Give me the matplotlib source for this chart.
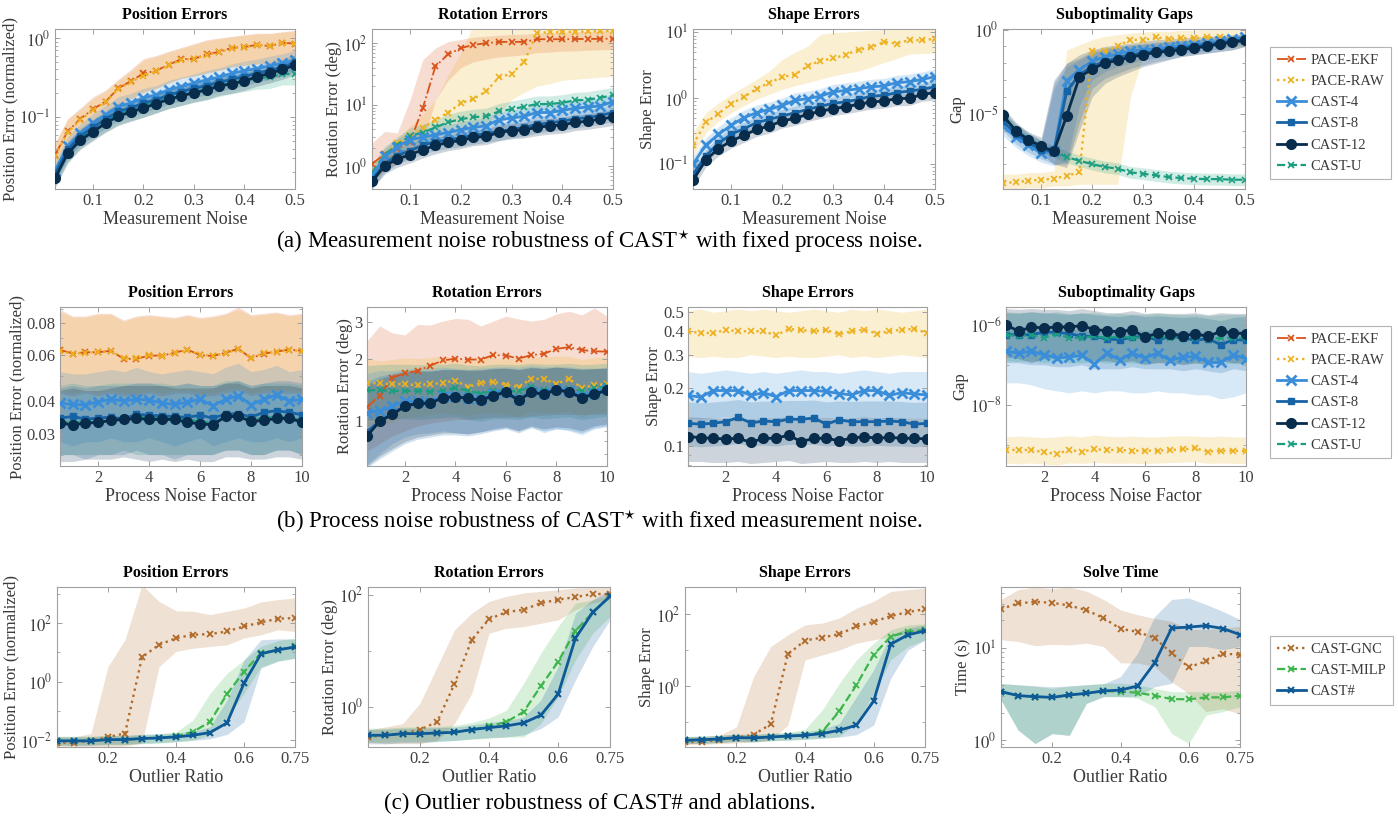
import numpy as np
import matplotlib
matplotlib.use("Agg")
import matplotlib.pyplot as plt
from matplotlib.lines import Line2D
from matplotlib.ticker import FixedLocator, FixedFormatter, NullFormatter

plt.rcParams.update({
    "font.family": ["Liberation Serif", "DejaVu Serif"],
    "mathtext.fontset": "stix",
    "axes.edgecolor": "#a0a0a0",
    "axes.linewidth": 0.8,
    "xtick.color": "#a0a0a0",
    "ytick.color": "#a0a0a0",
    "xtick.labelcolor": "#404040",
    "ytick.labelcolor": "#404040",
})

# ---------------- x values ----------------
A_X = [0.025, 0.05, 0.075, 0.1, 0.125, 0.15, 0.175, 0.2, 0.225, 0.25, 0.275, 0.3, 0.325, 0.35, 0.375, 0.4, 0.425, 0.45, 0.475, 0.5]
B_X = [0.5, 1, 1.5, 2, 2.5, 3, 3.5, 4, 4.5, 5, 5.5, 6, 6.5, 7, 7.5, 8, 8.5, 9, 9.5, 10]
C_X = [0.05, 0.1, 0.15, 0.2, 0.25, 0.3, 0.35, 0.4, 0.45, 0.5, 0.55, 0.6, 0.65, 0.7, 0.75]

# ---------------- (a1) position vs measurement noise ----------------
a1_ekf = [0.033, 0.066, 0.094, 0.126, 0.157, 0.23, 0.285, 0.356, 0.385, 0.46, 0.54, 0.545, 0.62, 0.67, 0.75, 0.77, 0.82, 0.79, 0.87, 0.85]
a1_ekf_hi = [0.047, 0.095, 0.13, 0.18, 0.22, 0.30, 0.40, 0.55, 0.60, 0.68, 0.76, 0.85, 0.95, 1.0, 1.05, 1.1, 1.15, 1.15, 1.2, 1.25]
a1_ekf_lo = [0.022, 0.043, 0.06, 0.08, 0.10, 0.14, 0.17, 0.21, 0.23, 0.27, 0.31, 0.33, 0.36, 0.39, 0.43, 0.45, 0.47, 0.47, 0.5, 0.5]
a1_raw = [0.032, 0.064, 0.092, 0.122, 0.155, 0.225, 0.28, 0.33, 0.38, 0.45, 0.53, 0.55, 0.61, 0.66, 0.74, 0.77, 0.81, 0.80, 0.86, 0.84]
a1_raw_hi = [0.046, 0.093, 0.125, 0.17, 0.21, 0.29, 0.38, 0.52, 0.58, 0.66, 0.74, 0.82, 0.92, 0.98, 1.03, 1.08, 1.12, 1.13, 1.18, 1.22]
a1_raw_lo = [0.022, 0.044, 0.061, 0.081, 0.1, 0.14, 0.17, 0.2, 0.23, 0.27, 0.31, 0.33, 0.36, 0.39, 0.43, 0.45, 0.47, 0.48, 0.5, 0.5]
a1_c4 = [0.021, 0.043, 0.063, 0.084, 0.107, 0.136, 0.15, 0.174, 0.19, 0.22, 0.243, 0.267, 0.295, 0.318, 0.357, 0.385, 0.41, 0.445, 0.476, 0.525]
a1_c4_hi = [0.027, 0.056, 0.082, 0.11, 0.14, 0.18, 0.20, 0.23, 0.25, 0.29, 0.32, 0.35, 0.39, 0.42, 0.47, 0.51, 0.54, 0.59, 0.63, 0.70]
a1_c4_lo = [0.016, 0.032, 0.047, 0.063, 0.08, 0.10, 0.113, 0.13, 0.143, 0.165, 0.18, 0.20, 0.22, 0.24, 0.27, 0.29, 0.31, 0.33, 0.36, 0.39]
a1_c8 = [0.019, 0.039, 0.057, 0.074, 0.094, 0.118, 0.13, 0.15, 0.165, 0.19, 0.21, 0.23, 0.25, 0.275, 0.30, 0.325, 0.36, 0.39, 0.43, 0.49]
a1_c8_hi = [0.024, 0.049, 0.072, 0.094, 0.12, 0.15, 0.165, 0.19, 0.21, 0.24, 0.265, 0.29, 0.315, 0.345, 0.38, 0.41, 0.45, 0.49, 0.54, 0.61]
a1_c8_lo = [0.0145, 0.03, 0.044, 0.057, 0.072, 0.09, 0.1, 0.115, 0.127, 0.146, 0.16, 0.177, 0.19, 0.21, 0.23, 0.25, 0.275, 0.30, 0.33, 0.37]
a1_c12 = [0.0168, 0.0346, 0.051, 0.065, 0.084, 0.102, 0.116, 0.13, 0.147, 0.168, 0.185, 0.204, 0.219, 0.247, 0.263, 0.286, 0.324, 0.356, 0.40, 0.454]
a1_c12_hi = [0.021, 0.044, 0.065, 0.083, 0.107, 0.13, 0.148, 0.165, 0.187, 0.213, 0.235, 0.26, 0.28, 0.31, 0.335, 0.365, 0.41, 0.45, 0.5, 0.57]
a1_c12_lo = [0.0128, 0.026, 0.039, 0.05, 0.064, 0.078, 0.088, 0.099, 0.112, 0.128, 0.14, 0.155, 0.167, 0.188, 0.2, 0.218, 0.246, 0.27, 0.3, 0.345]
a1_cu = [0.018, 0.036, 0.054, 0.07, 0.088, 0.108, 0.122, 0.137, 0.155, 0.175, 0.192, 0.21, 0.225, 0.25, 0.27, 0.29, 0.31, 0.318, 0.35, 0.35]
a1_cu_hi = [0.023, 0.046, 0.069, 0.089, 0.112, 0.137, 0.155, 0.174, 0.197, 0.22, 0.244, 0.267, 0.286, 0.318, 0.343, 0.368, 0.39, 0.40, 0.44, 0.45]
a1_cu_lo = [0.0135, 0.027, 0.04, 0.052, 0.065, 0.08, 0.09, 0.1, 0.113, 0.128, 0.14, 0.153, 0.164, 0.182, 0.197, 0.21, 0.225, 0.23, 0.255, 0.255]

# ---------------- (a2) rotation vs measurement noise ----------------
a2_ekf = [1.09, 1.6, 1.9, 2.5, 8.8, 42, 66, 83, 94, 100, 105, 105, 105, 116, 116, 116, 117, 117, 118, 118]
a2_ekf_hi = [2.4, 3.7, 3.5, 12, 54, 83, 106, 115, 125, 130, 135, 138, 140, 145, 150, 150, 155, 155, 160, 160]
a2_ekf_lo = [0.6, 0.88, 1.1, 1.45, 2.4, 12, 25, 40, 50, 55, 60, 62, 65, 70, 72, 74, 75, 77, 78, 80]
a2_raw = [0.75, 1.55, 2.4, 3.1, 4.2, 5.7, 7.5, 10.6, 12.5, 16.5, 28, 32, 50, 148, 150, 152, 154, 155, 156, 158]
a2_raw_hi = [1.0, 1.9, 2.8, 4.5, 7, 12, 30, 70, 200, 200, 200, 200, 200, 200, 200, 200, 200, 200, 200, 200]
a2_raw_lo = [0.47, 0.9, 1.3, 1.9, 2.3, 2.7, 3.1, 3.5, 4.2, 5, 7, 12, 16, 20, 22, 25, 26, 27, 28, 29]
a2_c4 = [0.69, 1.45, 2.1, 2.7, 2.99, 3.26, 3.55, 3.93, 4.3, 4.56, 5.7, 6.1, 6.5, 7.5, 7.5, 8.1, 8.8, 9.2, 9.6, 11.3]
a2_c4_hi = [0.93, 1.95, 2.8, 3.6, 4.0, 4.4, 4.8, 5.3, 5.8, 6.2, 7.7, 8.2, 8.8, 10.1, 10.1, 10.9, 11.9, 12.4, 13.0, 15.3]
a2_c4_lo = [0.5, 1.04, 1.5, 1.95, 2.15, 2.35, 2.55, 2.83, 3.1, 3.3, 4.1, 4.4, 4.7, 5.4, 5.4, 5.8, 6.3, 6.6, 6.9, 8.1]
a2_c8 = [0.6, 1.1, 1.5, 1.8, 2.2, 2.5, 2.7, 2.9, 3.2, 3.4, 3.7, 4.0, 4.3, 4.8, 5.1, 5.4, 5.9, 6.2, 6.7, 7.5]
a2_c8_hi = [0.8, 1.5, 2.0, 2.4, 2.9, 3.3, 3.6, 3.9, 4.3, 4.6, 5.0, 5.4, 5.8, 6.5, 6.9, 7.3, 8.0, 8.4, 9.0, 10.1]
a2_c8_lo = [0.44, 0.8, 1.1, 1.3, 1.6, 1.8, 1.95, 2.1, 2.3, 2.45, 2.65, 2.9, 3.1, 3.45, 3.7, 3.9, 4.2, 4.5, 4.8, 5.4]
a2_c12 = [0.57, 1.02, 1.32, 1.55, 1.86, 2.19, 2.45, 2.64, 2.95, 3.07, 3.56, 3.8, 3.93, 4.3, 4.56, 4.7, 5.2, 5.4, 5.9, 6.3]
a2_c12_hi = [0.75, 1.35, 1.75, 2.05, 2.45, 2.9, 3.2, 3.5, 3.9, 4.05, 4.7, 5.0, 5.2, 5.7, 6.0, 6.2, 6.9, 7.1, 7.8, 8.3]
a2_c12_lo = [0.43, 0.75, 0.97, 1.14, 1.37, 1.6, 1.8, 1.95, 2.17, 2.26, 2.6, 2.8, 2.9, 3.15, 3.35, 3.45, 3.8, 4.0, 4.3, 4.6]
a2_cu = [0.78, 1.55, 2.25, 3.1, 3.55, 4.3, 5.2, 5.85, 6.3, 6.5, 7.8, 8.5, 9.3, 10.3, 10.3, 10.8, 11.8, 12.1, 13.1, 14.2]
a2_cu_hi = [1.05, 2.1, 3.0, 4.2, 4.8, 5.8, 7.0, 7.9, 8.5, 8.8, 10.5, 11.5, 12.6, 13.9, 13.9, 14.6, 15.9, 16.3, 17.7, 19.2]
a2_cu_lo = [0.55, 1.1, 1.6, 2.2, 2.5, 3.0, 3.6, 4.1, 4.4, 4.6, 5.5, 6.0, 6.5, 7.2, 7.2, 7.6, 8.3, 8.5, 9.2, 10.0]

# ---------------- (a3) shape vs measurement noise ----------------
a3_raw = [0.198, 0.43, 0.585, 0.83, 1.05, 1.4, 1.73, 2.11, 2.29, 3.1, 3.73, 4.05, 4.6, 5.5, 5.95, 7.2, 6.8, 7.7, 7.6, 8.05]
a3_raw_hi = [0.3, 0.6, 0.85, 1.15, 1.5, 1.95, 2.6, 3.9, 5.0, 6.2, 9.4, 10.0, 10.2, 10.5, 10.8, 11, 11.3, 11.5, 11.5, 11.5]
a3_raw_lo = [0.13, 0.3, 0.45, 0.6, 0.78, 0.97, 1.15, 1.37, 1.55, 1.73, 1.95, 2.2, 2.4, 2.6, 3.0, 3.5, 4.0, 4.7, 4.8, 4.9]
a3_c4 = [0.1, 0.195, 0.284, 0.39, 0.51, 0.605, 0.68, 0.78, 0.93, 0.99, 1.08, 1.25, 1.32, 1.4, 1.5, 1.54, 1.73, 1.79, 1.94, 2.13]
a3_c4_hi = [0.13, 0.25, 0.37, 0.51, 0.66, 0.79, 0.88, 1.01, 1.21, 1.29, 1.4, 1.63, 1.72, 1.82, 1.95, 2.0, 2.25, 2.33, 2.52, 2.77]
a3_c4_lo = [0.075, 0.146, 0.213, 0.29, 0.38, 0.45, 0.51, 0.585, 0.7, 0.74, 0.81, 0.94, 0.99, 1.05, 1.13, 1.16, 1.3, 1.34, 1.46, 1.6]
a3_c8 = [0.07, 0.133, 0.207, 0.284, 0.346, 0.427, 0.48, 0.54, 0.605, 0.68, 0.76, 0.84, 0.89, 0.965, 1.08, 1.11, 1.22, 1.29, 1.37, 1.5]
a3_c8_hi = [0.088, 0.166, 0.26, 0.355, 0.43, 0.53, 0.6, 0.675, 0.76, 0.85, 0.95, 1.05, 1.11, 1.21, 1.35, 1.39, 1.53, 1.61, 1.71, 1.88]
a3_c8_lo = [0.056, 0.106, 0.166, 0.227, 0.277, 0.34, 0.384, 0.432, 0.484, 0.544, 0.61, 0.67, 0.71, 0.77, 0.86, 0.89, 0.98, 1.03, 1.1, 1.2]
a3_c12 = [0.057, 0.116, 0.172, 0.225, 0.274, 0.338, 0.38, 0.453, 0.497, 0.572, 0.635, 0.697, 0.747, 0.81, 0.88, 0.91, 0.99, 1.0, 1.15, 1.22]
a3_c12_hi = [0.068, 0.139, 0.206, 0.27, 0.33, 0.405, 0.456, 0.544, 0.596, 0.686, 0.762, 0.836, 0.896, 0.97, 1.06, 1.09, 1.19, 1.2, 1.38, 1.46]
a3_c12_lo = [0.044, 0.09, 0.134, 0.175, 0.214, 0.264, 0.296, 0.353, 0.388, 0.446, 0.495, 0.544, 0.583, 0.632, 0.686, 0.71, 0.77, 0.78, 0.9, 0.95]

# ---------------- (a4) suboptimality gap vs measurement noise (log10 values) ----------------
a4_raw = [-9.13, -9.07, -8.99, -8.93, -8.87, -8.69, -8.49, -1.29, -1.29, -0.99, -0.6, -0.63, -0.46, -0.54, -0.5, -0.5, -0.44, -0.46, -0.54, -0.56]
a4_raw_hi = [-8.6, -8.6, -8.5, -8.5, -8.4, -1.2, -0.9, -0.6, -0.4, -0.3, -0.2, -0.15, -0.1, -0.1, -0.05, -0.05, 0, 0, 0, 0]
a4_raw_lo = [-9.5, -9.5, -9.4, -9.4, -9.3, -9.3, -9.2, -9.2, -9.2, -9.2, -4.0, -1.6, -1.3, -1.2, -1.1, -1.1, -1.0, -1.0, -1.0, -1.0]
a4_c4 = [-5.75, -6.39, -6.88, -7.34, -7.24, -3.04, -2.38, -1.88, -1.63, -1.45, -1.29, -1.19, -1.15, -1.03, -0.95, -0.89, -0.79, -0.69, -0.55, -0.44]
a4_c4_hi = [-5.2, -5.8, -6.3, -6.7, -3.5, -2.2, -1.8, -1.4, -1.2, -1.05, -0.95, -0.85, -0.8, -0.7, -0.65, -0.6, -0.55, -0.45, -0.4, -0.25]
a4_c4_lo = [-6.3, -7.0, -7.5, -7.9, -8.1, -7.8, -4.5, -3.0, -2.5, -2.2, -2.0, -1.8, -1.7, -1.55, -1.45, -1.35, -1.25, -1.1, -1.0, -0.8]
a4_c8 = [-5.46, -6.19, -6.71, -7.14, -7.24, -3.67, -2.68, -2.18, -1.88, -1.68, -1.49, -1.39, -1.29, -1.19, -1.09, -0.99, -0.91, -0.79, -0.69, -0.56]
a4_c8_hi = [-4.9, -5.6, -6.1, -6.6, -3.2, -2.0, -1.7, -1.3, -1.1, -1.0, -0.9, -0.85, -0.75, -0.7, -0.65, -0.6, -0.55, -0.45, -0.4, -0.3]
a4_c8_lo = [-6.0, -6.8, -7.3, -7.7, -8.0, -8.0, -5.5, -3.5, -2.9, -2.6, -2.3, -2.1, -1.9, -1.75, -1.6, -1.5, -1.4, -1.3, -1.2, -1.0]
a4_c12 = [-5.1, -6.01, -6.55, -6.94, -7.24, -5.12, -2.82, -2.34, -1.98, -1.83, -1.63, -1.49, -1.35, -1.29, -1.19, -1.09, -0.99, -0.85, -0.75, -0.63]
a4_c12_hi = [-4.6, -5.5, -6.1, -6.4, -3.0, -2.0, -1.5, -1.2, -1.0, -0.9, -0.8, -0.7, -0.6, -0.55, -0.5, -0.45, -0.4, -0.35, -0.3, -0.25]
a4_c12_lo = [-5.6, -6.5, -7.0, -7.4, -8.0, -8.2, -6.0, -4.0, -3.2, -2.8, -2.5, -2.2, -2.0, -1.8, -1.6, -1.5, -1.4, -1.3, -1.2, -1.0]
a4_cu = [-5.1, -6.01, -6.55, -6.94, -7.24, -7.58, -7.8, -8.0, -8.17, -8.27, -8.49, -8.57, -8.67, -8.77, -8.83, -8.87, -8.89, -8.89, -8.93, -8.93]
a4_cu_hi = [-4.75, -5.66, -6.2, -6.59, -6.89, -7.23, -7.45, -7.65, -7.82, -7.92, -8.14, -8.22, -8.32, -8.42, -8.48, -8.52, -8.54, -8.54, -8.58, -8.58]
a4_cu_lo = [-5.45, -6.36, -6.9, -7.29, -7.59, -7.93, -8.15, -8.35, -8.52, -8.62, -8.84, -8.92, -9.02, -9.12, -9.18, -9.22, -9.24, -9.24, -9.28, -9.28]

# ---------------- (b1) position vs process noise ----------------
b1_ekf = [0.063, 0.061, 0.0617, 0.0617, 0.0625, 0.0582, 0.0582, 0.0599, 0.0599, 0.0614, 0.0632, 0.0601, 0.0597, 0.0614, 0.0637, 0.0585, 0.061, 0.062, 0.0632, 0.0625]
b1_ekf_hi = [0.09, 0.085, 0.085, 0.087, 0.087, 0.082, 0.085, 0.086, 0.085, 0.084, 0.086, 0.084, 0.085, 0.087, 0.092, 0.086, 0.087, 0.088, 0.086, 0.087]
b1_ekf_lo = [0.043, 0.042, 0.043, 0.042, 0.043, 0.042, 0.042, 0.043, 0.042, 0.043, 0.043, 0.042, 0.042, 0.043, 0.044, 0.042, 0.043, 0.043, 0.043, 0.043]
b1_raw = [0.0625, 0.0607, 0.0615, 0.0618, 0.0622, 0.0585, 0.0584, 0.0601, 0.0597, 0.0612, 0.063, 0.0603, 0.0599, 0.0611, 0.0635, 0.0588, 0.0612, 0.0618, 0.063, 0.0622]
b1_raw_hi = [0.088, 0.084, 0.084, 0.086, 0.086, 0.081, 0.084, 0.085, 0.084, 0.083, 0.085, 0.083, 0.084, 0.086, 0.09, 0.085, 0.086, 0.087, 0.085, 0.086]
b1_raw_lo = [0.044, 0.043, 0.044, 0.043, 0.044, 0.043, 0.043, 0.044, 0.043, 0.044, 0.044, 0.043, 0.043, 0.044, 0.045, 0.043, 0.044, 0.044, 0.044, 0.044]
b1_c4 = [0.0394, 0.0389, 0.0388, 0.0398, 0.0407, 0.0402, 0.0407, 0.0405, 0.0394, 0.0389, 0.0397, 0.0407, 0.0385, 0.0407, 0.042, 0.0388, 0.0407, 0.0424, 0.0401, 0.0407]
b1_c4_hi = [0.052, 0.051, 0.051, 0.052, 0.053, 0.052, 0.054, 0.052, 0.051, 0.052, 0.053, 0.052, 0.051, 0.054, 0.056, 0.052, 0.053, 0.055, 0.052, 0.053]
b1_c4_lo = [0.028, 0.027, 0.028, 0.028, 0.029, 0.028, 0.028, 0.029, 0.028, 0.027, 0.028, 0.029, 0.027, 0.028, 0.029, 0.028, 0.028, 0.029, 0.028, 0.029]
b1_c8 = [0.0345, 0.035, 0.0342, 0.0345, 0.0348, 0.0342, 0.0357, 0.0354, 0.0352, 0.035, 0.0347, 0.0354, 0.0345, 0.0357, 0.0359, 0.0348, 0.0363, 0.0368, 0.0363, 0.0355]
b1_c8_hi = [0.045, 0.046, 0.045, 0.046, 0.046, 0.046, 0.047, 0.047, 0.046, 0.046, 0.047, 0.046, 0.046, 0.047, 0.048, 0.046, 0.047, 0.048, 0.048, 0.047]
b1_c8_lo = [0.025, 0.025, 0.024, 0.025, 0.025, 0.025, 0.026, 0.025, 0.025, 0.024, 0.025, 0.025, 0.025, 0.026, 0.026, 0.025, 0.025, 0.026, 0.026, 0.025]
b1_c12 = [0.033, 0.0325, 0.033, 0.0332, 0.0338, 0.0341, 0.0344, 0.0341, 0.0341, 0.0341, 0.0332, 0.0328, 0.0325, 0.035, 0.035, 0.0335, 0.0338, 0.0344, 0.0344, 0.0333]
b1_c12_hi = [0.044, 0.045, 0.044, 0.044, 0.045, 0.046, 0.046, 0.046, 0.046, 0.045, 0.045, 0.045, 0.045, 0.047, 0.047, 0.045, 0.046, 0.046, 0.046, 0.045]
b1_c12_lo = [0.0235, 0.0235, 0.024, 0.024, 0.024, 0.0245, 0.024, 0.0235, 0.024, 0.0235, 0.024, 0.0235, 0.0235, 0.0245, 0.0245, 0.024, 0.024, 0.0245, 0.0245, 0.024]
b1_cu = [0.0335, 0.033, 0.0335, 0.034, 0.034, 0.0345, 0.035, 0.0345, 0.0345, 0.0345, 0.034, 0.0335, 0.033, 0.035, 0.035, 0.034, 0.0345, 0.035, 0.0345, 0.034]
b1_cu_hi = [0.046, 0.047, 0.046, 0.046, 0.047, 0.047, 0.047, 0.047, 0.047, 0.046, 0.047, 0.046, 0.046, 0.048, 0.048, 0.046, 0.047, 0.047, 0.047, 0.046]
b1_cu_lo = [0.025, 0.025, 0.025, 0.025, 0.025, 0.026, 0.025, 0.025, 0.025, 0.025, 0.025, 0.025, 0.025, 0.026, 0.026, 0.025, 0.025, 0.026, 0.026, 0.025]

# ---------------- (b2) rotation vs process noise ----------------
b2_ekf = [1.17, 1.33, 1.62, 1.7, 1.75, 1.85, 1.96, 2.0, 1.98, 1.98, 2.08, 2.07, 2.0, 2.08, 2.11, 2.23, 2.27, 2.2, 2.17, 2.16]
b2_ekf_hi = [2.43, 2.87, 2.66, 2.6, 2.92, 2.9, 3.03, 3.12, 3.09, 2.87, 3.03, 3.2, 3.1, 3.03, 3.09, 3.28, 3.38, 3.24, 3.5, 3.2]
b2_ekf_lo = [0.72, 0.78, 0.85, 0.9, 0.95, 0.98, 1.0, 1.02, 1.02, 1.03, 1.05, 1.05, 1.05, 1.06, 1.07, 1.08, 1.08, 1.08, 1.08, 1.08]
b2_raw = [1.53, 1.52, 1.51, 1.51, 1.49, 1.51, 1.53, 1.57, 1.46, 1.53, 1.55, 1.5, 1.46, 1.6, 1.6, 1.51, 1.6, 1.45, 1.49, 1.51]
b2_raw_hi = [2.0, 1.95, 1.98, 2.02, 2.0, 2.03, 2.05, 2.0, 1.98, 2.04, 2.02, 2.0, 2.02, 2.05, 2.03, 2.06, 2.05, 1.98, 2.03, 2.04]
b2_raw_lo = [0.9, 0.95, 1.0, 1.05, 1.05, 1.08, 1.1, 1.08, 1.06, 1.1, 1.1, 1.08, 1.05, 1.12, 1.1, 1.1, 1.12, 1.05, 1.1, 1.1]
b2_c4 = [1.1, 1.12, 1.18, 1.25, 1.25, 1.24, 1.32, 1.32, 1.30, 1.28, 1.35, 1.39, 1.28, 1.40, 1.37, 1.43, 1.40, 1.32, 1.37, 1.43]
b2_c4_hi = [1.7, 1.75, 1.75, 1.78, 1.8, 1.8, 1.82, 1.8, 1.78, 1.8, 1.82, 1.83, 1.82, 1.85, 1.83, 1.84, 1.83, 1.8, 1.8, 1.82]
b2_c4_lo = [0.62, 0.7, 0.78, 0.84, 0.87, 0.88, 0.9, 0.88, 0.87, 0.89, 0.91, 0.93, 0.9, 0.94, 0.88, 0.92, 0.9, 0.86, 0.92, 0.94]
b2_c8 = [0.89, 1.0, 1.08, 1.19, 1.22, 1.22, 1.30, 1.31, 1.29, 1.26, 1.33, 1.38, 1.26, 1.38, 1.35, 1.42, 1.38, 1.30, 1.35, 1.41]
b2_c8_hi = [1.55, 1.65, 1.7, 1.75, 1.75, 1.75, 1.78, 1.78, 1.76, 1.77, 1.8, 1.8, 1.78, 1.82, 1.8, 1.82, 1.8, 1.78, 1.79, 1.8]
b2_c8_lo = [0.6, 0.66, 0.72, 0.78, 0.82, 0.84, 0.86, 0.86, 0.85, 0.87, 0.9, 0.92, 0.88, 0.93, 0.9, 0.92, 0.91, 0.88, 0.93, 0.95]
b2_c12 = [0.85, 1.0, 1.08, 1.18, 1.22, 1.22, 1.30, 1.31, 1.29, 1.26, 1.33, 1.38, 1.26, 1.38, 1.35, 1.42, 1.38, 1.30, 1.35, 1.41]
b2_c12_hi = [1.5, 1.6, 1.67, 1.73, 1.74, 1.74, 1.77, 1.77, 1.76, 1.76, 1.79, 1.8, 1.77, 1.81, 1.79, 1.82, 1.8, 1.78, 1.79, 1.8]
b2_c12_lo = [0.61, 0.68, 0.74, 0.8, 0.84, 0.86, 0.88, 0.88, 0.87, 0.89, 0.92, 0.94, 0.9, 0.95, 0.92, 0.94, 0.93, 0.9, 0.95, 0.97]
b2_cu = [1.41, 1.41, 1.40, 1.40, 1.40, 1.39, 1.40, 1.45, 1.40, 1.36, 1.40, 1.39, 1.40, 1.46, 1.41, 1.42, 1.43, 1.40, 1.44, 1.47]
b2_cu_hi = [1.85, 1.87, 1.88, 1.88, 1.87, 1.88, 1.88, 1.9, 1.86, 1.85, 1.88, 1.88, 1.87, 1.9, 1.88, 1.88, 1.9, 1.87, 1.88, 1.9]
b2_cu_lo = [1.0, 1.02, 1.03, 1.03, 1.02, 1.03, 1.04, 1.05, 1.02, 1.0, 1.03, 1.03, 1.02, 1.05, 1.03, 1.04, 1.05, 1.02, 1.04, 1.06]

# ---------------- (b3) shape vs process noise ----------------
b3_raw = [0.398, 0.39, 0.39, 0.404, 0.398, 0.398, 0.398, 0.379, 0.409, 0.404, 0.398, 0.404, 0.384, 0.398, 0.406, 0.387, 0.398, 0.406, 0.409, 0.39]
b3_raw_hi = [0.51, 0.52, 0.5, 0.51, 0.52, 0.51, 0.52, 0.51, 0.5, 0.51, 0.52, 0.51, 0.5, 0.52, 0.51, 0.52, 0.51, 0.5, 0.51, 0.52]
b3_raw_lo = [0.295, 0.29, 0.295, 0.29, 0.29, 0.3, 0.295, 0.29, 0.295, 0.29, 0.29, 0.295, 0.3, 0.29, 0.295, 0.29, 0.295, 0.3, 0.295, 0.29]
b3_c4 = [0.184, 0.18, 0.195, 0.195, 0.195, 0.184, 0.19, 0.181, 0.195, 0.195, 0.195, 0.193, 0.188, 0.185, 0.195, 0.195, 0.184, 0.19, 0.187, 0.185]
b3_c4_hi = [0.245, 0.24, 0.245, 0.25, 0.245, 0.24, 0.245, 0.24, 0.245, 0.25, 0.245, 0.245, 0.24, 0.245, 0.25, 0.245, 0.24, 0.245, 0.245, 0.245]
b3_c4_lo = [0.14, 0.138, 0.14, 0.142, 0.14, 0.138, 0.14, 0.139, 0.14, 0.141, 0.14, 0.14, 0.138, 0.14, 0.141, 0.14, 0.138, 0.14, 0.14, 0.14]
b3_c8 = [0.1315, 0.13, 0.1315, 0.134, 0.141, 0.132, 0.135, 0.134, 0.138, 0.138, 0.14, 0.13, 0.137, 0.134, 0.134, 0.134, 0.135, 0.134, 0.13, 0.1315]
b3_c8_hi = [0.17, 0.168, 0.17, 0.172, 0.175, 0.17, 0.172, 0.171, 0.173, 0.173, 0.174, 0.17, 0.172, 0.171, 0.172, 0.172, 0.172, 0.171, 0.169, 0.17]
b3_c8_lo = [0.1, 0.099, 0.1, 0.101, 0.103, 0.1, 0.101, 0.1, 0.102, 0.102, 0.102, 0.1, 0.101, 0.1, 0.1, 0.101, 0.1, 0.1, 0.099, 0.1]
b3_c12 = [0.112, 0.1106, 0.1097, 0.1088, 0.1097, 0.1045, 0.1097, 0.1097, 0.114, 0.1053, 0.1097, 0.1097, 0.1066, 0.1097, 0.112, 0.1097, 0.111, 0.1097, 0.1097, 0.1088]
b3_c12_hi = [0.142, 0.141, 0.14, 0.14, 0.141, 0.138, 0.14, 0.14, 0.143, 0.139, 0.14, 0.141, 0.139, 0.14, 0.142, 0.14, 0.141, 0.14, 0.14, 0.14]
b3_c12_lo = [0.083, 0.083, 0.082, 0.082, 0.083, 0.081, 0.082, 0.083, 0.084, 0.081, 0.082, 0.083, 0.082, 0.082, 0.083, 0.082, 0.083, 0.082, 0.082, 0.082]

# ---------------- (b4) gap vs process noise (log10 values) ----------------
b4_raw = [-9.125, -9.125, -9.125, -9.18, -9.225, -9.125, -9.167, -9.108, -9.125, -9.125, -9.142, -9.142, -9.142, -9.125, -9.108, -9.083, -9.167, -9.142, -9.142, -9.15]
b4_raw_hi = [-8.8, -8.78, -8.8, -8.82, -8.8, -8.77, -8.8, -8.75, -8.78, -8.8, -8.78, -8.8, -8.8, -8.78, -8.77, -8.78, -8.8, -8.78, -8.8, -8.8]
b4_raw_lo = [-9.45, -9.47, -9.45, -9.48, -9.5, -9.45, -9.46, -9.44, -9.45, -9.46, -9.45, -9.47, -9.45, -9.44, -9.43, -9.42, -9.46, -9.45, -9.46, -9.46]
b4_c4 = [-6.667, -6.708, -6.667, -6.75, -6.833, -6.808, -6.767, -6.983, -6.708, -6.875, -6.708, -6.833, -6.708, -6.892, -6.808, -6.792, -6.942, -6.942, -6.75, -6.85]
b4_c4_hi = [-6.05, -6.1, -6.05, -6.1, -6.15, -6.15, -6.1, -6.2, -6.1, -6.2, -6.1, -6.15, -6.1, -6.2, -6.15, -6.15, -6.2, -6.2, -6.1, -6.15]
b4_c4_lo = [-7.45, -7.45, -7.5, -7.6, -7.65, -7.7, -7.65, -7.7, -7.65, -7.65, -7.7, -7.7, -7.65, -7.7, -7.7, -7.75, -7.75, -7.85, -7.8, -7.7]
b4_c8 = [-6.25, -6.25, -6.25, -6.19, -6.19, -6.225, -6.29, -6.29, -6.36, -6.375, -6.317, -6.29, -6.39, -6.29, -6.33, -6.39, -6.35, -6.5, -6.375, -6.39]
b4_c8_hi = [-5.7, -5.72, -5.68, -5.7, -5.72, -5.75, -5.7, -5.75, -5.78, -5.8, -5.75, -5.8, -5.78, -5.8, -5.82, -5.8, -5.85, -5.9, -5.82, -5.8]
b4_c8_lo = [-6.95, -6.95, -7.0, -7.0, -7.05, -7.05, -7.0, -7.1, -7.1, -7.1, -7.05, -7.1, -7.1, -7.1, -7.15, -7.1, -7.15, -7.2, -7.1, -7.15]
b4_c12 = [-6.0, -6.167, -6.058, -6.083, -6.058, -6.058, -6.025, -6.125, -6.15, -6.183, -6.125, -6.317, -6.208, -6.225, -6.275, -6.233, -6.292, -6.167, -6.208, -6.225]
b4_c12_hi = [-5.6, -5.62, -5.6, -5.62, -5.62, -5.65, -5.6, -5.65, -5.7, -5.7, -5.65, -5.72, -5.7, -5.72, -5.72, -5.7, -5.75, -5.7, -5.72, -5.72]
b4_c12_lo = [-6.8, -6.85, -6.95, -6.85, -6.8, -6.8, -6.8, -6.9, -6.9, -6.95, -6.9, -7.0, -6.95, -6.95, -7.0, -6.95, -7.0, -6.9, -6.95, -6.95]
b4_cu = [-6.25, -6.29, -6.25, -6.33, -6.23, -6.33, -6.33, -6.29, -6.33, -6.29, -6.33, -6.33, -6.29, -6.33, -6.33, -6.33, -6.37, -6.33, -6.33, -6.33]
b4_cu_hi = [-5.68, -5.7, -5.68, -5.72, -5.68, -5.72, -5.72, -5.7, -5.74, -5.72, -5.74, -5.74, -5.72, -5.74, -5.75, -5.74, -5.78, -5.75, -5.75, -5.75]
b4_cu_lo = [-6.9, -6.92, -6.9, -6.95, -6.9, -6.95, -6.95, -6.92, -6.96, -6.94, -6.96, -6.96, -6.94, -6.96, -6.98, -6.96, -7.0, -6.97, -6.97, -6.97]

# ---------------- (c1) position vs outlier ratio (log10 values) ----------------
c1_gnc = [-2.09, -2.08, -2.02, -1.886, -1.77, 0.834, 1.257, 1.486, 1.6, 1.623, 1.714, 1.886, 2.023, 2.149, 2.17]
c1_gnc_hi = [-1.886, -1.886, -1.77, 0.514, 1.43, 3.3, 2.74, 2.42, 2.4, 2.29, 2.4, 2.51, 2.72, 2.8, 2.86]
c1_gnc_lo = [-2.25, -2.25, -2.25, -2.25, -2.2, -2.1, 0.514, 1.03, 1.14, 1.2, 1.257, 1.49, 1.6, 1.77, 1.71]
c1_milp = [-2.02, -2.02, -2.02, -1.977, -1.977, -1.94, -1.92, -1.86, -1.714, -1.37, -0.423, 0.343, 0.97, 1.086, 1.2]
c1_milp_hi = [-1.86, -1.86, -1.86, -1.83, -1.83, -1.8, -1.78, -1.72, -1.31, -0.4, 0.286, 0.74, 1.2, 1.4, 1.49]
c1_milp_lo = [-2.17, -2.17, -2.17, -2.15, -2.15, -2.12, -2.1, -2.05, -2.0, -1.83, -1.2, -0.4, 0.51, 0.69, 0.8]
c1_cs = [-2.02, -2.02, -2.02, -1.977, -1.977, -1.94, -1.92, -1.886, -1.83, -1.737, -1.406, -0.057, 0.95, 1.086, 1.18]
c1_cs_hi = [-1.88, -1.88, -1.88, -1.84, -1.84, -1.8, -1.78, -1.75, -1.7, -1.54, -0.63, 0.74, 1.43, 1.46, 1.45]
c1_cs_lo = [-2.17, -2.17, -2.17, -2.14, -2.14, -2.1, -2.08, -2.05, -2.0, -1.95, -1.8, -1.37, 0.457, 0.71, 0.8]

# ---------------- (c2) rotation vs outlier ratio (log10 values) ----------------
c2_gnc = [-0.537, -0.507, -0.478, -0.406, -0.269, 0.406, 1.194, 1.564, 1.69, 1.731, 1.851, 1.91, 1.958, 2.012, 2.012]
c2_gnc_hi = [-0.418, -0.358, -0.3, 0.06, 0.716, 1.37, 1.67, 1.88, 1.97, 2.03, 2.06, 2.09, 2.12, 2.13, 2.13]
c2_gnc_lo = [-0.627, -0.657, -0.657, -0.657, -0.6, -0.3, 0.239, 1.313, 1.4, 1.43, 1.49, 1.55, 1.73, 1.85, 1.91]
c2_milp = [-0.507, -0.507, -0.478, -0.478, -0.466, -0.454, -0.406, -0.346, -0.269, -0.09, 0.37, 0.806, 1.355, 1.684, 1.97]
c2_milp_hi = [-0.38, -0.38, -0.36, -0.36, -0.35, -0.33, -0.28, -0.2, -0.06, 0.418, 0.955, 1.433, 1.85, 1.91, 2.0]
c2_milp_lo = [-0.63, -0.63, -0.62, -0.62, -0.61, -0.6, -0.58, -0.56, -0.54, -0.537, -0.3, 0.18, 0.836, 1.313, 1.61]
c2_cs = [-0.507, -0.507, -0.478, -0.478, -0.466, -0.454, -0.406, -0.37, -0.34, -0.287, -0.149, 0.227, 1.224, 1.684, 1.97]
c2_cs_hi = [-0.4, -0.4, -0.38, -0.38, -0.37, -0.36, -0.32, -0.28, -0.25, -0.18, 0.12, 0.716, 1.67, 1.91, 2.09]
c2_cs_lo = [-0.66, -0.66, -0.64, -0.64, -0.62, -0.6, -0.57, -0.55, -0.537, -0.5, -0.388, -0.179, 0.478, 1.075, 1.55]

# ---------------- (c3) shape vs outlier ratio (log10 values) ----------------
c3_gnc = [-1.553, -1.553, -1.488, -1.433, -1.349, -1.06, 0.884, 1.265, 1.349, 1.442, 1.656, 1.786, 1.944, 2.056, 2.14]
c3_gnc_hi = [-1.414, -1.414, -1.37, -1.135, 0.26, 1.1, 1.423, 1.7, 1.75, 1.89, 2.167, 2.353, 2.63, 2.68, 2.72]
c3_gnc_lo = [-1.62, -1.62, -1.6, -1.58, -1.55, -1.5, -1.088, 0.726, 0.865, 1.0, 1.19, 1.284, 1.377, 1.47, 1.56]
c3_milp = [-1.507, -1.49, -1.47, -1.433, -1.44, -1.414, -1.39, -1.367, -1.274, -0.698, 0.028, 0.865, 1.377, 1.516, 1.56]
c3_milp_hi = [-1.4, -1.39, -1.37, -1.33, -1.34, -1.31, -1.29, -1.2, -0.67, 0.074, 0.726, 1.19, 1.56, 1.7, 1.73]
c3_milp_lo = [-1.6, -1.59, -1.57, -1.54, -1.55, -1.52, -1.5, -1.48, -1.45, -1.4, -1.04, -0.2, 0.726, 1.1, 1.28]
c3_cs = [-1.507, -1.49, -1.47, -1.433, -1.44, -1.414, -1.39, -1.367, -1.32, -1.228, -1.088, -0.419, 1.163, 1.423, 1.535]
c3_cs_hi = [-1.41, -1.39, -1.37, -1.34, -1.35, -1.32, -1.3, -1.27, -1.2, -1.04, -0.3, 0.447, 1.42, 1.61, 1.7]
c3_cs_lo = [-1.6, -1.59, -1.57, -1.54, -1.55, -1.52, -1.5, -1.48, -1.45, -1.42, -1.35, -1.088, 0.214, 1.0, 1.28]

# ---------------- (c4) solve time vs outlier ratio (seconds) ----------------
c4_gnc = [26.6, 30.5, 31.8, 31, 29, 25.8, 21.2, 16.2, 15, 12.9, 8.8, 6.2, 7.2, 8.7, 8.5]
c4_gnc_hi = [33.7, 43, 46, 44, 46, 41.5, 33.7, 26, 23, 21, 19.5, 15.9, 15.9, 16.5, 17.2]
c4_gnc_lo = [12.3, 11.8, 10.6, 11, 10.8, 11.3, 10.4, 6.9, 6.9, 6.3, 4.3, 3.2, 2.04, 2.2, 1.92]
c4_milp = [3.37, 3.05, 2.97, 2.92, 3.1, 3.23, 3.43, 3.37, 3.28, 3.05, 2.8, 2.78, 2.92, 2.92, 3.05]
c4_milp_hi = [4.15, 4.0, 3.85, 3.66, 3.85, 4.0, 4.15, 4.15, 4.0, 3.66, 3.37, 3.37, 3.37, 3.37, 3.5]
c4_milp_lo = [2.73, 1.29, 0.92, 1.18, 1.13, 2.51, 2.97, 2.97, 2.85, 2.31, 1.18, 0.92, 1.87, 2.04, 2.31]
c4_cs = [3.37, 3.05, 2.97, 2.92, 3.1, 3.23, 3.43, 3.5, 3.88, 6.9, 16.5, 16.9, 17.5, 16.3, 14.0]
c4_cs_hi = [4.1, 4.0, 3.9, 3.8, 3.9, 4.0, 4.1, 4.9, 8.8, 22, 33.7, 35, 29.7, 25, 20.4]
c4_cs_lo = [2.73, 1.29, 0.92, 1.18, 1.13, 2.51, 2.97, 2.97, 3.0, 3.8, 4.15, 10.4, 10.4, 9.6, 10.4]

# ---------------- styles ----------------
STY = {
    "PACE-EKF": dict(color="#D95319", ls="-.", marker="x", ms=4, mew=1.2, lw=1.3),
    "PACE-RAW": dict(color="#EDB120", ls=":", marker="x", ms=4, mew=1.2, lw=1.7),
    "CAST-4": dict(color="#3A8DD8", ls="-", marker="x", ms=7, mew=2.0, lw=2.0),
    "CAST-8": dict(color="#1664A6", ls="-", marker="s", ms=4.5, mew=1.0, lw=2.0),
    "CAST-12": dict(color="#082C4B", ls="-", marker="o", ms=7, mew=1.0, lw=2.0),
    "CAST-U": dict(color="#1A9E80", ls="--", marker="x", ms=4, mew=1.2, lw=1.6),
    "CAST-GNC": dict(color="#B06B2A", ls=":", marker="x", ms=4, mew=1.3, lw=1.7),
    "CAST-MILP": dict(color="#3DB54A", ls="--", marker="x", ms=4, mew=1.3, lw=1.6),
    "CAST#": dict(color="#0D5A97", ls="-", marker="x", ms=4, mew=1.5, lw=2.0),
}
ALPHA = 0.2

W, H = 1398, 817
fig = plt.figure(figsize=(W / 100, H / 100), dpi=100)


def make_ax(x0, x1, ytop, ybot):
    return fig.add_axes([x0 / W, 1 - ybot / H, (x1 - x0) / W, (ybot - ytop) / H])


def draw(ax, x, items, log=False):
    conv = (lambda v: 10 ** np.asarray(v, float)) if log else (lambda v: np.asarray(v, float))
    for key, m, lo, hi in items:
        st = STY[key]
        ax.fill_between(x, conv(lo), conv(hi), color=st["color"], alpha=ALPHA, lw=0, zorder=1)
    for i, (key, m, lo, hi) in enumerate(items):
        st = STY[key]
        ax.plot(x, conv(m), color=st["color"], ls=st["ls"], lw=st["lw"], marker=st["marker"],
                ms=st["ms"], mew=st["mew"], mec=st["color"], mfc=st["color"], zorder=3 + i)


def setup(ax, title, xlabel, ylabel, xlim, xticks, xlabels, ylim, yticks, ylabels, yminor):
    ax.set_yscale("log")
    ax.set_xlim(*xlim)
    ax.set_ylim(*ylim)
    ax.xaxis.set_major_locator(FixedLocator(xticks))
    ax.xaxis.set_major_formatter(FixedFormatter(xlabels))
    ax.xaxis.set_minor_locator(FixedLocator([]))
    ax.yaxis.set_major_locator(FixedLocator(yticks))
    ax.yaxis.set_major_formatter(FixedFormatter(ylabels))
    ax.yaxis.set_minor_locator(FixedLocator(yminor))
    ax.yaxis.set_minor_formatter(NullFormatter())
    ax.tick_params(which="both", direction="in", top=True, right=True, labelsize=12)
    ax.tick_params(which="major", length=3.5, width=0.7, pad=3)
    ax.tick_params(which="minor", length=2, width=0.6)
    ax.set_title(title, fontsize=11.5, fontweight="bold", pad=7)
    ax.set_xlabel(xlabel, fontsize=13, color="#3a3a3a", labelpad=1)
    ax.set_ylabel(ylabel, fontsize=12, color="#3a3a3a", labelpad=1)


def dec(lo, hi):
    return [10.0 ** k for k in range(lo, hi + 1)]


def subs(lo, hi):
    out = []
    for k in range(lo, hi + 1):
        out += [s * 10.0 ** k for s in range(2, 10)]
    return out


AXT = [0.1, 0.2, 0.3, 0.4, 0.5]
AXL = ["0.1", "0.2", "0.3", "0.4", "0.5"]
BXT = [2, 4, 6, 8, 10]
BXL = ["2", "4", "6", "8", "10"]
CXT = [0.2, 0.4, 0.6, 0.75]
CXL = ["0.2", "0.4", "0.6", "0.75"]

# ---------- Row (a) ----------
ax = make_ax(55, 295, 29, 189)
draw(ax, A_X, [("PACE-EKF", a1_ekf, a1_ekf_lo, a1_ekf_hi), ("PACE-RAW", a1_raw, a1_raw_lo, a1_raw_hi),
               ("CAST-U", a1_cu, a1_cu_lo, a1_cu_hi), ("CAST-4", a1_c4, a1_c4_lo, a1_c4_hi),
               ("CAST-8", a1_c8, a1_c8_lo, a1_c8_hi), ("CAST-12", a1_c12, a1_c12_lo, a1_c12_hi)])
setup(ax, "Position Errors", "Measurement Noise", "Position Error (normalized)", (0.025, 0.5), AXT, AXL,
      (0.0123, 1.3), [0.1, 1.0], [r"$10^{-1}$", r"$10^{0}$"], subs(-2, 0))

ax = make_ax(372, 613, 29, 189)
draw(ax, A_X, [("PACE-EKF", a2_ekf, a2_ekf_lo, a2_ekf_hi), ("PACE-RAW", a2_raw, a2_raw_lo, a2_raw_hi),
               ("CAST-U", a2_cu, a2_cu_lo, a2_cu_hi), ("CAST-4", a2_c4, a2_c4_lo, a2_c4_hi),
               ("CAST-8", a2_c8, a2_c8_lo, a2_c8_hi), ("CAST-12", a2_c12, a2_c12_lo, a2_c12_hi)])
setup(ax, "Rotation Errors", "Measurement Noise", "Rotation Error (deg)", (0.025, 0.5), AXT, AXL,
      (0.43, 170), [1, 10, 100], [r"$10^{0}$", r"$10^{1}$", r"$10^{2}$"], subs(-1, 2))

ax = make_ax(693, 935, 29, 189)
draw(ax, A_X, [("PACE-RAW", a3_raw, a3_raw_lo, a3_raw_hi), ("CAST-4", a3_c4, a3_c4_lo, a3_c4_hi),
               ("CAST-8", a3_c8, a3_c8_lo, a3_c8_hi), ("CAST-12", a3_c12, a3_c12_lo, a3_c12_hi)])
setup(ax, "Shape Errors", "Measurement Noise", "Shape Error", (0.025, 0.5), AXT, AXL,
      (0.042, 11.3), [0.1, 1, 10], [r"$10^{-1}$", r"$10^{0}$", r"$10^{1}$"], subs(-2, 1))

ax = make_ax(1003, 1245, 29, 189)
draw(ax, A_X, [("PACE-RAW", a4_raw, a4_raw_lo, a4_raw_hi), ("CAST-U", a4_cu, a4_cu_lo, a4_cu_hi),
               ("CAST-4", a4_c4, a4_c4_lo, a4_c4_hi), ("CAST-8", a4_c8, a4_c8_lo, a4_c8_hi),
               ("CAST-12", a4_c12, a4_c12_lo, a4_c12_hi)], log=True)
setup(ax, "Suboptimality Gaps", "Measurement Noise", "Gap", (0.025, 0.5), AXT, AXL,
      (10 ** -9.48, 10 ** 0.04), [1e-5, 1.0], [r"$10^{-5}$", r"$10^{0}$"], dec(-9, -1))

# ---------- Row (b) ----------
ax = make_ax(60, 302, 307, 466)
draw(ax, B_X, [("PACE-EKF", b1_ekf, b1_ekf_lo, b1_ekf_hi), ("PACE-RAW", b1_raw, b1_raw_lo, b1_raw_hi),
               ("CAST-U", b1_cu, b1_cu_lo, b1_cu_hi), ("CAST-4", b1_c4, b1_c4_lo, b1_c4_hi),
               ("CAST-8", b1_c8, b1_c8_lo, b1_c8_hi), ("CAST-12", b1_c12, b1_c12_lo, b1_c12_hi)])
setup(ax, "Position Errors", "Process Noise Factor", "Position Error (normalized)", (0.5, 10), BXT, BXL,
      (0.0226, 0.092), [0.03, 0.04, 0.06, 0.08], ["0.03", "0.04", "0.06", "0.08"], [0.025, 0.05, 0.07, 0.09])

ax = make_ax(367, 607, 307, 466)
draw(ax, B_X, [("PACE-EKF", b2_ekf, b2_ekf_lo, b2_ekf_hi), ("PACE-RAW", b2_raw, b2_raw_lo, b2_raw_hi),
               ("CAST-U", b2_cu, b2_cu_lo, b2_cu_hi), ("CAST-4", b2_c4, b2_c4_lo, b2_c4_hi),
               ("CAST-8", b2_c8, b2_c8_lo, b2_c8_hi), ("CAST-12", b2_c12, b2_c12_lo, b2_c12_hi)])
setup(ax, "Rotation Errors", "Process Noise Factor", "Rotation Error (deg)", (0.5, 10), BXT, BXL,
      (0.61, 3.54), [1, 2, 3], ["1", "2", "3"], [0.7, 0.8, 0.9])

ax = make_ax(688, 927, 307, 466)
draw(ax, B_X, [("PACE-RAW", b3_raw, b3_raw_lo, b3_raw_hi), ("CAST-4", b3_c4, b3_c4_lo, b3_c4_hi),
               ("CAST-8", b3_c8, b3_c8_lo, b3_c8_hi), ("CAST-12", b3_c12, b3_c12_lo, b3_c12_hi)])
setup(ax, "Shape Errors", "Process Noise Factor", "Shape Error", (0.5, 10), BXT, BXL,
      (0.0786, 0.533), [0.1, 0.2, 0.3, 0.4, 0.5], ["0.1", "0.2", "0.3", "0.4", "0.5"], [0.08, 0.09])

ax = make_ax(1006, 1246, 307, 466)
draw(ax, B_X, [("PACE-RAW", b4_raw, b4_raw_lo, b4_raw_hi), ("CAST-4", b4_c4, b4_c4_lo, b4_c4_hi),
               ("CAST-8", b4_c8, b4_c8_lo, b4_c8_hi), ("CAST-U", b4_cu, b4_cu_lo, b4_cu_hi),
               ("CAST-12", b4_c12, b4_c12_lo, b4_c12_hi)], log=True)
setup(ax, "Suboptimality Gaps", "Process Noise Factor", "Gap", (0.5, 10), BXT, BXL,
      (10 ** -9.525, 10 ** -5.56), [1e-8, 1e-6], [r"$10^{-8}$", r"$10^{-6}$"], [1e-9, 1e-7])

# ---------- Row (c) ----------
ax = make_ax(57, 295, 587, 747)
draw(ax, C_X, [("CAST-GNC", c1_gnc, c1_gnc_lo, c1_gnc_hi), ("CAST-MILP", c1_milp, c1_milp_lo, c1_milp_hi),
               ("CAST#", c1_cs, c1_cs_lo, c1_cs_hi)], log=True)
setup(ax, "Position Errors", "Outlier Ratio", "Position Error (normalized)", (0.05, 0.75), CXT, CXL,
      (10 ** -2.23, 10 ** 3.23), [1e-2, 1, 1e2], [r"$10^{-2}$", r"$10^{0}$", r"$10^{2}$"], [1e-1, 10, 1e3])

ax = make_ax(368, 610, 587, 747)
draw(ax, C_X, [("CAST-GNC", c2_gnc, c2_gnc_lo, c2_gnc_hi), ("CAST-MILP", c2_milp, c2_milp_lo, c2_milp_hi),
               ("CAST#", c2_cs, c2_cs_lo, c2_cs_hi)], log=True)
setup(ax, "Rotation Errors", "Outlier Ratio", "Rotation Error (deg)", (0.05, 0.75), CXT, CXL,
      (10 ** -0.716, 10 ** 2.137), [1, 1e2], [r"$10^{0}$", r"$10^{2}$"], [10])

ax = make_ax(685, 925, 587, 747)
draw(ax, C_X, [("CAST-GNC", c3_gnc, c3_gnc_lo, c3_gnc_hi), ("CAST-MILP", c3_milp, c3_milp_lo, c3_milp_hi),
               ("CAST#", c3_cs, c3_cs_lo, c3_cs_hi)], log=True)
setup(ax, "Shape Errors", "Outlier Ratio", "Shape Error", (0.05, 0.75), CXT, CXL,
      (10 ** -1.693, 10 ** 2.753), [1, 1e2], [r"$10^{0}$", r"$10^{2}$"], [1e-1, 10])

ax = make_ax(1001, 1240, 587, 747)
draw(ax, C_X, [("CAST-GNC", c4_gnc, c4_gnc_lo, c4_gnc_hi), ("CAST-MILP", c4_milp, c4_milp_lo, c4_milp_hi),
               ("CAST#", c4_cs, c4_cs_lo, c4_cs_hi)])
setup(ax, "Solve Time", "Outlier Ratio", "Time (s)", (0.05, 0.75), CXT, CXL,
      (0.845, 46), [1, 10], [r"$10^{0}$", r"$10^{1}$"], subs(-1, 1))


# ---------- legends ----------
def handles(keys):
    hs = []
    for k in keys:
        st = STY[k]
        hs.append(Line2D([], [], color=st["color"], ls=st["ls"], lw=st["lw"], marker=st["marker"],
                         ms=st["ms"], mew=st["mew"], mec=st["color"], mfc=st["color"]))
    return hs


KEYS_AB = ["PACE-EKF", "PACE-RAW", "CAST-4", "CAST-8", "CAST-12", "CAST-U"]
KEYS_C = ["CAST-GNC", "CAST-MILP", "CAST#"]
for ytop, keys in [(47, KEYS_AB), (326, KEYS_AB), (636, KEYS_C)]:
    leg = fig.legend(handles(keys), keys, loc="upper left", bbox_to_anchor=(1270 / W, 1 - ytop / H),
                     frameon=True, fancybox=False, edgecolor="#a0a0a0", fontsize=10.5,
                     handlelength=2.0, handletextpad=0.35, borderpad=0.45, borderaxespad=0,
                     labelspacing=0.55)
    leg.get_frame().set_linewidth(0.8)
    for t in leg.get_texts():
        t.set_color("#3a3a3a")

# ---------- captions ----------
CAPS = [(242, r"(a) Measurement noise robustness of CAST$^{\star}$ with fixed process noise."),
        (522, r"(b) Process noise robustness of CAST$^{\star}$ with fixed measurement noise."),
        (803, "(c) Outlier robustness of CAST# and ablations.")]
for yc, txt in CAPS:
    fig.text(600 / W, 1 - yc / H, txt, ha="center", va="center", fontsize=16.5, color="black")

fig.savefig("out.png", dpi=100)
